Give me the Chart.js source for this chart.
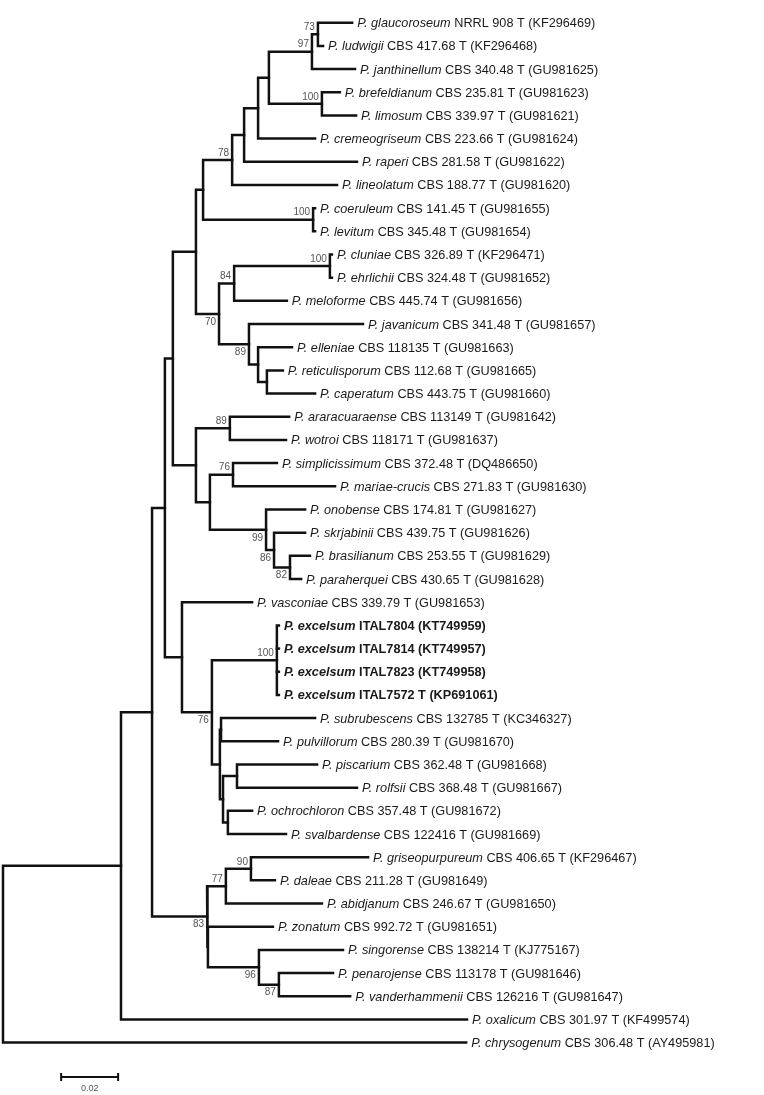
<!DOCTYPE html>
<html>
<head>
<meta charset="utf-8">
<script src="https://cdn.jsdelivr.net/npm/chart.js@4/dist/chart.umd.min.js"></script>
<style>
  html, body { margin: 0; padding: 0; background: #fff; }
  #tree { display: block; }
</style>
</head>
<body>
<canvas id="tree" width="764" height="1095"></canvas>
<script>
// tips, listed top to bottom
const species = ['P. glaucoroseum', 'P. ludwigii', 'P. janthinellum', 'P. brefeldianum', 'P. limosum',
  'P. cremeogriseum', 'P. raperi', 'P. lineolatum', 'P. coeruleum', 'P. levitum', 'P. cluniae',
  'P. ehrlichii', 'P. meloforme', 'P. javanicum', 'P. elleniae', 'P. reticulisporum', 'P. caperatum',
  'P. araracuaraense', 'P. wotroi', 'P. simplicissimum', 'P. mariae-crucis', 'P. onobense',
  'P. skrjabinii', 'P. brasilianum', 'P. paraherquei', 'P. vasconiae', 'P. excelsum', 'P. excelsum',
  'P. excelsum', 'P. excelsum', 'P. subrubescens', 'P. pulvillorum', 'P. piscarium', 'P. rolfsii',
  'P. ochrochloron', 'P. svalbardense', 'P. griseopurpureum', 'P. daleae', 'P. abidjanum',
  'P. zonatum', 'P. singorense', 'P. penarojense', 'P. vanderhammenii', 'P. oxalicum', 'P. chrysogenum'];

const strains = ['NRRL 908 T (KF296469)', 'CBS 417.68 T (KF296468)', 'CBS 340.48 T (GU981625)',
  'CBS 235.81 T (GU981623)', 'CBS 339.97 T (GU981621)', 'CBS 223.66 T (GU981624)',
  'CBS 281.58 T (GU981622)', 'CBS 188.77 T (GU981620)', 'CBS 141.45 T (GU981655)',
  'CBS 345.48 T (GU981654)', 'CBS 326.89 T (KF296471)', 'CBS 324.48 T (GU981652)',
  'CBS 445.74 T (GU981656)', 'CBS 341.48 T (GU981657)', 'CBS 118135 T (GU981663)',
  'CBS 112.68 T (GU981665)', 'CBS 443.75 T (GU981660)', 'CBS 113149 T (GU981642)',
  'CBS 118171 T (GU981637)', 'CBS 372.48 T (DQ486650)', 'CBS 271.83 T (GU981630)',
  'CBS 174.81 T (GU981627)', 'CBS 439.75 T (GU981626)', 'CBS 253.55 T (GU981629)',
  'CBS 430.65 T (GU981628)', 'CBS 339.79 T (GU981653)', 'ITAL7804 (KT749959)', 'ITAL7814 (KT749957)',
  'ITAL7823 (KT749958)', 'ITAL7572 T (KP691061)', 'CBS 132785 T (KC346327)',
  'CBS 280.39 T (GU981670)', 'CBS 362.48 T (GU981668)', 'CBS 368.48 T (GU981667)',
  'CBS 357.48 T (GU981672)', 'CBS 122416 T (GU981669)', 'CBS 406.65 T (KF296467)',
  'CBS 211.28 T (GU981649)', 'CBS 246.67 T (GU981650)', 'CBS 992.72 T (GU981651)',
  'CBS 138214 T (KJ775167)', 'CBS 113178 T (GU981646)', 'CBS 126216 T (GU981647)',
  'CBS 301.97 T (KF499574)', 'CBS 306.48 T (AY495981)'];

// isolates of the new species (printed bold)
const newIsolates = [26, 27, 28, 29];

// distance of each tip from the root
const tipDepth = [0.1225, 0.1123, 0.1235, 0.1182, 0.1239, 0.1095, 0.1242, 0.1172, 0.1095, 0.1095,
  0.1154, 0.1154, 0.0996, 0.1263, 0.1014, 0.0982, 0.1095, 0.1004, 0.0993, 0.0961, 0.1165, 0.1060,
  0.1060, 0.1077, 0.1046, 0.0874, 0.0968, 0.0968, 0.0968, 0.0968, 0.1095, 0.0965, 0.1102, 0.1242,
  0.0874, 0.0993, 0.1281, 0.0954, 0.1119, 0.0947, 0.1193, 0.1158, 0.1218, 0.1628, 0.1625];

// internal nodes n0..n41: children are tip numbers or 'n<k>'
const nodeKids = [
  ['n1', 44], ['n2', 43], ['n3', 'n36'], ['n4', 'n28'], ['n5', 'n21'], ['n6', 'n15'],
  ['n7', 'n14'], ['n8', 7], ['n9', 6], ['n10', 5], ['n11', 'n13'], ['n12', 2], [0, 1], [3, 4],
  [8, 9], ['n16', 'n18'], ['n17', 12], [10, 11], [13, 'n19'], [14, 'n20'], [15, 16],
  ['n22', 'n23'], [17, 18], ['n24', 'n25'], [19, 20], [21, 'n26'], [22, 'n27'], [23, 24],
  [25, 'n29'], ['n30', 'n31'], [26, 27, 28, 29], ['n32', 'n33'], [30, 31], ['n34', 'n35'],
  [32, 33], [34, 35], ['n37', 'n39'], ['n38', 38], [36, 37], [39, 'n40'], [40, 'n41'], [41, 42]
];
const nodeDepth = [0, 0.0414, 0.0523, 0.0568, 0.0596, 0.0677, 0.0702, 0.0804, 0.0846, 0.0895,
  0.0933, 0.1084, 0.1105, 0.1119, 0.1088, 0.0758, 0.0811, 0.1147, 0.0863, 0.0895, 0.0926, 0.0677,
  0.0796, 0.0726, 0.0807, 0.0923, 0.0951, 0.1007, 0.0628, 0.0733, 0.0961, 0.0761, 0.0765, 0.0772,
  0.0821, 0.0789, 0.0716, 0.0782, 0.0870, 0.0719, 0.0898, 0.0968];
// bootstrap support
const nodeSupport = [null, null, null, null, null, null, null, 78, null, null, null, 97, 73, 100,
  100, 70, 84, 100, 89, null, null, null, 89, null, 76, 99, 86, 82, null, 76, 100, null, null,
  null, null, null, 83, 77, 90, null, 96, 87];

const scaleBarLength = 0.02;

// layout only
const supportBelow = [15, 18, 25, 26, 27, 29, 36, 40, 41];
const pxPerUnit = 2850, rootPx = 3, firstRowPx = 22.7, rowPx = 23.18;
const scaleBarStart = 0.0204, scaleBarPx = 1077;
const W = 764, H = 1095;
const labelFont = '"Liberation Sans", Arial, Helvetica, sans-serif';

// ---- geometry from the tree ----
function kidX(k) { return typeof k === 'number' ? tipDepth[k] : nodeDepth[+k.slice(1)]; }
const yCache = {};
function kidY(k) {
  if (typeof k === 'number') return k;
  const n = +k.slice(1);
  if (yCache[n] === undefined) {
    const kids = nodeKids[n];
    yCache[n] = (kidY(kids[0]) + kidY(kids[kids.length - 1])) / 2;
  }
  return yCache[n];
}

const datasets = [];
const lineStyle = {
  showLine: true, pointRadius: 0, pointHoverRadius: 0, borderColor: '#111', borderWidth: 2.5,
  borderJoinStyle: 'miter', borderCapStyle: 'square', fill: false, clip: false
};
nodeKids.forEach((kids, n) => {
  const x = nodeDepth[n];
  const first = kids[0], last = kids[kids.length - 1];
  datasets.push(Object.assign({
    data: [
      { x: kidX(first), y: kidY(first) }, { x: x, y: kidY(first) },
      { x: x, y: kidY(last) }, { x: kidX(last), y: kidY(last) }
    ]
  }, lineStyle));
  kids.slice(1, -1).forEach(k => {
    datasets.push(Object.assign({ data: [{ x: x, y: kidY(k) }, { x: kidX(k), y: kidY(k) }] }, lineStyle));
  });
});

const labelsPlugin = {
  id: 'treeLabels',
  afterDatasetsDraw(chart) {
    const ctx = chart.ctx, xs = chart.scales.x, ys = chart.scales.y;
    ctx.save();
    ctx.textBaseline = 'middle';
    ctx.textAlign = 'left';
    ctx.fillStyle = '#1a1a1a';
    species.forEach((sp, i) => {
      const bold = newIsolates.includes(i);
      const x = xs.getPixelForValue(tipDepth[i]) + 5;
      const y = ys.getPixelForValue(i) + 1;
      ctx.font = (bold ? 'bold italic ' : 'italic ') + '12.7px ' + labelFont;
      ctx.fillText(sp, x, y);
      const w = ctx.measureText(sp + ' ').width;
      ctx.font = (bold ? 'bold ' : '') + '12.7px ' + labelFont;
      ctx.fillText(strains[i], x + w, y);
    });

    ctx.font = '10px ' + labelFont;
    ctx.fillStyle = '#555';
    ctx.textAlign = 'right';
    nodeSupport.forEach((s, n) => {
      if (s === null) return;
      const x = xs.getPixelForValue(nodeDepth[n]) - 3;
      const y = ys.getPixelForValue(kidY('n' + n)) + (supportBelow.includes(n) ? 8 : -7);
      ctx.fillText(String(s), x, y);
    });

    // scale bar
    const x0 = xs.getPixelForValue(scaleBarStart);
    const x1 = xs.getPixelForValue(scaleBarStart + scaleBarLength);
    ctx.strokeStyle = '#111';
    ctx.lineWidth = 2;
    ctx.beginPath();
    ctx.moveTo(x0, scaleBarPx); ctx.lineTo(x1, scaleBarPx);
    ctx.moveTo(x0, scaleBarPx - 4); ctx.lineTo(x0, scaleBarPx + 4);
    ctx.moveTo(x1, scaleBarPx - 4); ctx.lineTo(x1, scaleBarPx + 4);
    ctx.stroke();
    ctx.font = '9px ' + labelFont;
    ctx.textAlign = 'center';
    ctx.fillText(String(scaleBarLength), (x0 + x1) / 2, scaleBarPx + 12);
    ctx.restore();
  }
};

new Chart(document.getElementById('tree'), {
  type: 'scatter',
  data: { datasets: datasets },
  options: {
    responsive: false,
    animation: false,
    events: [],
    layout: { padding: 0 },
    plugins: { legend: { display: false }, tooltip: { enabled: false } },
    scales: {
      x: { type: 'linear', display: false, min: -rootPx / pxPerUnit, max: (W - rootPx) / pxPerUnit },
      y: { type: 'linear', display: false, reverse: true,
           min: -firstRowPx / rowPx, max: (H - firstRowPx) / rowPx }
    }
  },
  plugins: [labelsPlugin]
});
</script>
</body>
</html>
